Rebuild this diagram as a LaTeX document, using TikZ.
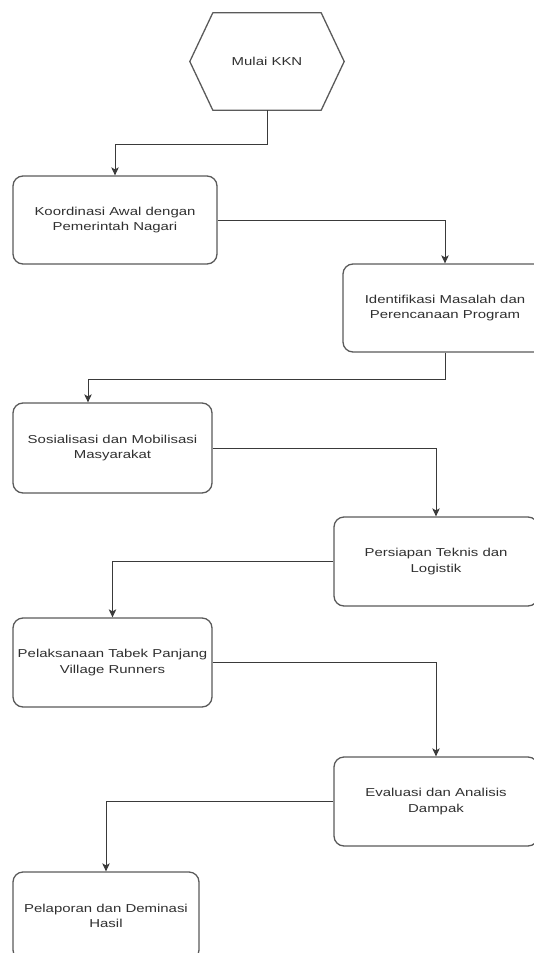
\documentclass[tikz,border=0pt]{standalone}
\usepackage{fontspec}
\setmainfont[FakeStretch=1.3]{Liberation Sans}
\usetikzlibrary{arrows.meta,calc}
\definecolor{txt}{HTML}{303030}
\definecolor{edge}{HTML}{3A3A3A}
\definecolor{frame}{HTML}{5A5A5A}
\begin{document}
\begin{tikzpicture}[x=1pt,y=-1pt,
  every node/.style={font=\fontsize{11.5}{15.5}\selectfont, text=txt, align=center, inner sep=0pt},
  stepbox/.style={draw=frame, line width=1.3pt, rounded corners=10pt, fill=white},
  hexbox/.style={},
  arr/.style={draw=edge, line width=1pt, -{Stealth[length=8pt,width=7.5pt,inset=2pt]}}]
\useasboundingbox (0,0) rectangle (534,953);
\clip (0,0) rectangle (534,953);
% start hexagon
\node[hexbox, minimum width=154pt, minimum height=97pt] (start) at (267,61.5) {Mulai KKN};
\draw[draw=frame, line width=1.3pt, line join=round]
  ($(start.north west)+(23,0)$) -- ($(start.north east)+(-23,0)$) -- (start.east)
  -- ($(start.south east)+(-23,0)$) -- ($(start.south west)+(23,0)$) -- (start.west) -- cycle;
% boxes
\node[stepbox, minimum width=204pt, minimum height=88pt] (b1) at (115,220) {Koordinasi Awal dengan\\Pemerintah Nagari};
\node[stepbox, minimum width=204pt, minimum height=88pt] (b2) at (445,308) {Identifikasi Masalah dan\\Perencanaan Program};
\node[stepbox, minimum width=199pt, minimum height=90pt] (b3) at (112.5,448) {Sosialisasi dan Mobilisasi\\Masyarakat};
\node[stepbox, minimum width=204pt, minimum height=89pt] (b4) at (436,561.5) {Persiapan Teknis dan\\Logistik};
\node[stepbox, minimum width=199pt, minimum height=89pt] (b5) at (112.5,662.5) {Pelaksanaan Tabek Panjang\\Village Runners};
\node[stepbox, minimum width=204pt, minimum height=89pt] (b6) at (436,801.5) {Evaluasi dan Analisis\\Dampak};
\node[stepbox, minimum width=186pt, minimum height=88pt] (b7) at (106,916) {Pelaporan dan Deminasi\\Hasil};
% connectors
\draw[arr] (start.south) -- ++(0,34) -| (b1.north);
\draw[arr] (b1.east) -| (b2.north);
\draw[arr] (b2.south) -- ++(0,27) -| ([xshift=-24.5pt]b3.north);
\draw[arr] (b3.east) -| (b4.north);
\draw[arr] (b4.west) -| (b5.north);
\draw[arr] (b5.east) -| (b6.north);
\draw[arr] (b6.west) -| (b7.north);
\end{tikzpicture}
\end{document}
